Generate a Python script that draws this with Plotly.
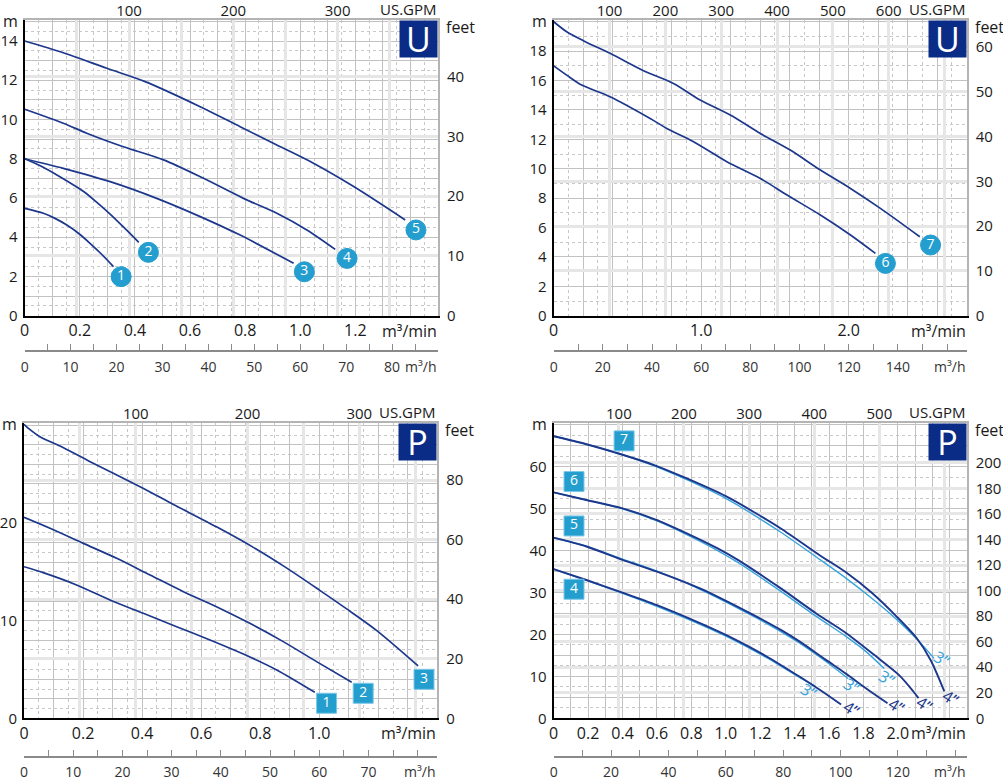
import numpy as np
import plotly.graph_objects as go

W, H = 1003, 780
GPM_PER_M3MIN = 264.172
FT_PER_M = 3.28084

NAVY = "#1c378c"
CYAN = "#249ece"
LIGHT = "#37a3dc"
BOX = "#0a2c86"
TXT = "#1a1a1a"
GRID = "#c2c2c2"
DOT = "#c8c8c8"
PALE = "#e6e6e6"
FONT = "Open Sans"

# ---------------- top left: U, curves 1-5 ----------------
a_x1 = [0, 0.068, 0.11, 0.153, 0.195, 0.237, 0.28, 0.322]
a_y1 = [5.47, 5.22, 4.96, 4.62, 4.2, 3.69, 3.12, 2.5]
a_x2 = [0, 0.06, 0.12, 0.215, 0.265, 0.31, 0.36, 0.414]
a_y2 = [8.0, 7.62, 7.15, 6.32, 5.74, 5.18, 4.5, 3.74]
a_x3 = [0, 0.14, 0.31, 0.479, 0.637, 0.78, 0.976]
a_y3 = [8.0, 7.51, 6.83, 5.98, 5.05, 4.12, 2.67]
a_x4 = [0, 0.14, 0.225, 0.358, 0.504, 0.649, 0.794, 0.915, 1.024, 1.127]
a_y4 = [10.52, 9.81, 9.3, 8.61, 7.94, 7.0, 5.98, 5.22, 4.37, 3.38]
a_x5 = [0, 0.14, 0.298, 0.437, 0.637, 0.782, 0.915, 1.048, 1.194, 1.381]
a_y5 = [14.0, 13.4, 12.61, 11.93, 10.65, 9.63, 8.70, 7.77, 6.58, 4.88]
a_tag_x = [0.350, 0.449, 1.015, 1.170, 1.420]
a_tag_y = [1.99, 3.23, 2.24, 2.92, 4.37]
a_tag_text = ["1", "2", "3", "4", "5"]

# ---------------- top right: U, curves 6-7 ----------------
b_x6 = [0, 0.088, 0.19, 0.382, 0.654, 0.767, 0.948, 1.174, 1.401, 1.582, 1.808, 2.012, 2.181]
b_y6 = [17.0, 16.37, 15.69, 14.90, 13.42, 12.74, 11.84, 10.48, 9.34, 8.21, 6.85, 5.49, 4.24]
b_x7 = [0, 0.088, 0.201, 0.382, 0.609, 0.812, 0.993, 1.197, 1.401, 1.604, 1.808, 2.012, 2.215, 2.482]
b_y7 = [20.0, 19.32, 18.71, 17.85, 16.67, 15.80, 14.67, 13.65, 12.40, 11.27, 9.91, 8.66, 7.30, 5.37]
b_tag_x = [2.249, 2.555]
b_tag_y = [3.56, 4.81]
b_tag_text = ["6", "7"]

# ---------------- bottom left: P, curves 1-3 ----------------
c_x1 = [0, 0.065, 0.178, 0.291, 0.404, 0.517, 0.630, 0.743, 0.856, 0.985]
c_y1 = [15.52, 14.91, 13.65, 12.11, 10.75, 9.38, 8.02, 6.58, 4.95, 2.66]
c_x2 = [0, 0.088, 0.201, 0.314, 0.427, 0.540, 0.652, 0.765, 0.878, 0.991, 1.110]
c_y2 = [20.57, 19.45, 17.91, 16.38, 14.67, 12.96, 11.43, 9.72, 7.85, 5.80, 3.68]
c_x3 = [0, 0.015, 0.054, 0.122, 0.224, 0.393, 0.506, 0.652, 0.777, 0.889, 1.002, 1.093, 1.194, 1.335]
c_y3 = [30.1, 29.68, 28.83, 27.87, 26.27, 23.71, 21.9, 19.6, 17.5, 15.4, 13.1, 11.2, 9.0, 5.36]
c_tag_x = [1.025, 1.149, 1.355]
c_tag_y = [1.54, 2.56, 3.99]
c_tag_text = ["1", "2", "3"]

# ---------------- bottom right: P, curves 4-7, 4" and 3" ----------------
d_x4 = [0, 0.19, 0.40, 0.60, 0.85, 1.05, 1.24, 1.43, 1.55, 1.67]
d_y4 = [35.6, 33.0, 30.0, 27.0, 22.7, 18.9, 14.7, 9.9, 6.7, 3.3]
d_x4s = [0, 0.19, 0.40, 0.60, 0.85, 1.05, 1.24, 1.43, 1.52]
d_y4s = [35.6, 32.9, 29.8, 26.7, 22.4, 18.6, 14.4, 9.7, 7.6]
d_x5 = [0, 0.19, 0.40, 0.60, 0.85, 1.14, 1.32, 1.43, 1.58, 1.70, 1.82, 1.94]
d_y5 = [43.1, 41.0, 37.8, 35.0, 31.0, 25.1, 21.1, 18.3, 14.0, 10.6, 7.0, 3.6]
d_x5s = [0, 0.19, 0.40, 0.60, 0.85, 1.14, 1.32, 1.43, 1.58, 1.71]
d_y5s = [43.1, 41.1, 38.0, 35.1, 30.8, 24.8, 20.7, 17.9, 13.6, 9.5]
d_x6 = [0, 0.19, 0.40, 0.60, 0.77, 0.95, 1.07, 1.32, 1.53, 1.70, 1.86, 2.01, 2.09, 2.12]
d_y6 = [53.9, 52.1, 50.1, 47.3, 44.2, 40.6, 37.8, 31.0, 24.9, 20.3, 15.2, 10.2, 6.4, 4.8]
d_x6s = [0, 0.19, 0.40, 0.60, 0.77, 0.95, 1.07, 1.32, 1.53, 1.70, 1.81, 1.92]
d_y6s = [53.9, 52.1, 50.0, 47.1, 43.9, 40.1, 37.2, 30.3, 24.2, 19.5, 16.1, 11.9]
d_x7 = [0, 0.19, 0.40, 0.58, 0.77, 1.0, 1.16, 1.32, 1.55, 1.70, 1.85, 1.99, 2.11, 2.19, 2.27]
d_y7 = [67.3, 65.4, 62.9, 60.5, 57.3, 53.0, 49.3, 45.3, 38.8, 34.8, 29.9, 24.4, 19.1, 13.9, 6.4]
d_x7s = [0, 0.19, 0.40, 0.58, 0.77, 1.0, 1.16, 1.32, 1.55, 1.70, 1.85, 1.99, 2.11, 2.21]
d_y7s = [67.3, 65.4, 62.9, 60.3, 57.0, 52.5, 48.6, 44.4, 37.8, 33.4, 28.6, 23.7, 18.9, 14.3]
d_tag_x = [0.118, 0.118, 0.118, 0.409]
d_tag_y = [30.8, 45.9, 56.5, 66.2]
d_tag_text = ["4", "5", "6", "7"]
d_size_x = [1.481, 1.733, 1.733, 1.994, 1.932, 2.153, 2.256, 2.308]
d_size_y = [6.4, 2.2, 7.6, 2.9, 9.5, 3.4, 14.1, 4.8]
d_size_text = ["3”", "4”", "3”", "4”", "3”", "4”", "3”", "4”"]

# tick labels
a_min_ticks = [0, 0.2, 0.4, 0.6, 0.8, 1.0, 1.2]
a_min_text = ["0", "0.2", "0.4", "0.6", "0.8", "1.0", "1.2"]
a_h_ticks = [0, 10, 20, 30, 40, 50, 60, 70, 80]
a_gpm_ticks = [100, 200, 300]
a_m_ticks = [0, 2, 4, 6, 8, 10, 12, 14]
a_ft_ticks = [0, 10, 20, 30, 40]

b_min_ticks = [0, 1.0, 2.0]
b_min_text = ["0", "1.0", "2.0"]
b_h_ticks = [0, 20, 40, 60, 80, 100, 120, 140]
b_gpm_ticks = [100, 200, 300, 400, 500, 600]
b_m_ticks = [0, 2, 4, 6, 8, 10, 12, 14, 16, 18]
b_ft_ticks = [0, 10, 20, 30, 40, 50, 60]

c_min_ticks = [0, 0.2, 0.4, 0.6, 0.8, 1.0]
c_min_text = ["0", "0.2", "0.4", "0.6", "0.8", "1.0"]
c_h_ticks = [0, 10, 20, 30, 40, 50, 60, 70]
c_gpm_ticks = [100, 200, 300]
c_m_ticks = [0, 10, 20]
c_ft_ticks = [0, 20, 40, 60, 80]

d_min_ticks = [0, 0.2, 0.4, 0.6, 0.8, 1.0, 1.2, 1.4, 1.6, 1.8, 2.0]
d_min_text = ["0", "0.2", "0.4", "0.6", "0.8", "1.0", "1.2", "1.4", "1.6", "1.8", "2.0"]
d_h_ticks = [0, 20, 40, 60, 80, 100, 120]
d_gpm_ticks = [100, 200, 300, 400, 500]
d_m_ticks = [0, 10, 20, 30, 40, 50, 60]
d_ft_ticks = [0, 20, 40, 60, 80, 100, 120, 140, 160, 180, 200]


def ax_id(p, n):
    return p if n == 1 else p + str(n)


def ax_key(p, n):
    return p + "axis" if n == 1 else p + "axis" + str(n)


def steps(top, step):
    return [round(v, 4) for v in np.arange(0, top + 1e-9, step)]


def labelled(vals, ticks, text=None):
    out = []
    for v in vals:
        s = ""
        for k, t in enumerate(ticks):
            if abs(v - t) < 1e-6:
                s = text[k] if text else str(t)
        out.append(s)
    return out


fig = go.Figure()
notes = []


def panel(i, box, hline, xr, yr, xgrid, xdot, ygrid, ydot, hstep, gstep,
          min_ticks, min_text, h_ticks, gpm_ticks, m_ticks, ft_ticks, letter):
    xm, xg, xh = 3 * i + 1, 3 * i + 2, 3 * i + 3
    ym, yf = 2 * i + 1, 2 * i + 2
    left, right, top, bottom = box
    xdom = [left / W, right / W]
    ydom = [1 - bottom / H, 1 - top / H]
    X, XG, XH = ax_id("x", xm), ax_id("x", xg), ax_id("x", xh)
    Y, YF = ax_id("y", ym), ax_id("y", yf)

    gx = steps(xr[1], xgrid)
    gy = steps(yr[1], ygrid)
    lay = {}
    lay[ax_key("x", xm)] = dict(
        domain=xdom, range=xr, anchor=Y, tickmode="array", tickvals=gx,
        ticktext=labelled(gx, min_ticks, min_text), ticks="", showgrid=True,
        gridcolor=GRID, gridwidth=1, zeroline=False, showline=True,
        linecolor="black", linewidth=2, ticklabelstandoff=-1, automargin=False,
        tickfont=dict(size=16, color=TXT),
        minor=dict(tickmode="linear", tick0=0, dtick=xdot, showgrid=True,
                   gridcolor=DOT, griddash="dot", gridwidth=1) if xdot else None)
    lay[ax_key("y", ym)] = dict(
        domain=ydom, range=yr, anchor=X, tickmode="array", tickvals=gy,
        ticktext=labelled(gy, m_ticks), ticks="", showgrid=True,
        gridcolor=GRID, gridwidth=1, zeroline=False, showline=True,
        linecolor="black", linewidth=2, ticklabelstandoff=2, automargin=False,
        tickfont=dict(size=15, color=TXT),
        minor=dict(tickmode="linear", tick0=0, dtick=ydot, showgrid=True,
                   gridcolor=DOT, griddash="dot", gridwidth=1))
    gg = steps(xr[1] * GPM_PER_M3MIN, gstep)
    lay[ax_key("x", xg)] = dict(
        overlaying=X, side="top", anchor=Y, range=[0, xr[1] * GPM_PER_M3MIN],
        tickmode="array", tickvals=gg, ticktext=labelled(gg, gpm_ticks),
        ticks="", showgrid=True, gridcolor=PALE, gridwidth=2.5, zeroline=False,
        showline=True, linecolor="#b4b4b4", linewidth=2, ticklabelstandoff=-4,
        automargin=False, tickfont=dict(size=15, color=TXT))
    lay[ax_key("y", yf)] = dict(
        overlaying=Y, side="right", anchor=X, range=[0, yr[1] * FT_PER_M],
        tickmode="array", tickvals=ft_ticks, ticks="", showgrid=True,
        gridcolor=PALE, gridwidth=2.5, zeroline=False, showline=True,
        linecolor="#b4b4b4", linewidth=2, ticklabelstandoff=4, automargin=False,
        tickfont=dict(size=15, color=TXT))
    hh = steps(xr[1] * 60, hstep)
    lay[ax_key("x", xh)] = dict(
        overlaying=X, anchor="free", position=1 - hline / H, side="bottom",
        range=[0, xr[1] * 60], tickmode="array", tickvals=hh,
        ticktext=labelled(hh, h_ticks), ticks="inside", ticklen=6,
        tickcolor="#8a8a8a", tickwidth=1, showgrid=False, zeroline=False,
        showline=True, linecolor="#8a8a8a", linewidth=1.5, automargin=False,
        ticklabelstandoff=3, tickfont=dict(size=14, color="#333333"))
    fig.update_layout(**lay)

    # keep the extra scales alive
    for xa, ya in [(XG, Y), (XH, Y), (X, YF)]:
        fig.add_trace(go.Scatter(x=[0], y=[0], xaxis=xa, yaxis=ya, mode="markers",
                                 marker=dict(opacity=0), hoverinfo="skip"))

    notes.extend([
        dict(text=letter, xref=X + " domain", yref=Y + " domain", x=1, y=1,
             xanchor="right", yanchor="top", showarrow=False, bgcolor=BOX,
             width=37, height=36, borderpad=0,
             font=dict(size=34, color="white", family=FONT)),
        dict(text="m", xref="paper", yref="paper", x=(left - 5) / W,
             y=1 - (top + 1) / H, xanchor="right", yanchor="middle",
             showarrow=False, font=dict(size=16, color=TXT)),
        dict(text="feet", xref="paper", yref="paper", x=(right + 6) / W,
             y=1 - (top + 7) / H, xanchor="left", yanchor="middle",
             showarrow=False, font=dict(size=16, color=TXT)),
        dict(text="US.GPM", xref="paper", yref="paper", x=(right + 1) / W,
             y=1 - (top - 11) / H, xanchor="right", yanchor="middle",
             showarrow=False, font=dict(size=15, color=TXT)),
        dict(text="m³/min", xref="paper", yref="paper", x=(right + 1) / W,
             y=1 - (bottom + 15) / H, xanchor="right", yanchor="middle",
             showarrow=False, font=dict(size=16, color=TXT)),
        dict(text="m³/h", xref="paper", yref="paper", x=(right + 1) / W,
             y=1 - (hline + 15) / H, xanchor="right", yanchor="middle",
             showarrow=False, font=dict(size=14, color="#333333")),
    ])
    return X, Y


def curve(X, Y, xs, ys, color=NAVY, width=1.7):
    fig.add_trace(go.Scatter(x=xs, y=ys, xaxis=X, yaxis=Y, mode="lines",
                             line=dict(color=color, width=width, shape="spline",
                                       smoothing=0.8),
                             hoverinfo="skip"))


def tags(X, Y, xs, ys, text, symbol):
    fig.add_trace(go.Scatter(x=xs, y=ys, xaxis=X, yaxis=Y, mode="markers+text",
                             text=text, textposition="middle center",
                             textfont=dict(size=14, color="white", family=FONT),
                             marker=dict(symbol=symbol, size=20, color=CYAN,
                                         line=dict(color="#7cc7e8" if symbol == "square" else CYAN,
                                                   width=1)),
                             cliponaxis=False, hoverinfo="skip"))


# top left
X, Y = panel(0, (24.7, 438, 20, 315.7), 351, [0, 1.5], [0, 15.07], 0.1, 0.05, 1, 0.5, 5, 50,
             a_min_ticks, a_min_text, a_h_ticks, a_gpm_ticks, a_m_ticks, a_ft_ticks, "U")
for xs, ys in [(a_x1, a_y1), (a_x2, a_y2), (a_x3, a_y3), (a_x4, a_y4), (a_x5, a_y5)]:
    curve(X, Y, xs, ys)
tags(X, Y, a_tag_x, a_tag_y, a_tag_text, "circle")

# top right
X, Y = panel(1, (553.7, 966.7, 20, 315.7), 351, [0, 2.8], [0, 20.12], 0.2, 0.1, 2, 1, 10, 100,
             b_min_ticks, b_min_text, b_h_ticks, b_gpm_ticks, b_m_ticks, b_ft_ticks, "U")
for xs, ys in [(b_x6, b_y6), (b_x7, b_y7)]:
    curve(X, Y, xs, ys)
tags(X, Y, b_tag_x, b_tag_y, b_tag_text, "circle")

# bottom left
X, Y = panel(2, (24, 437.3, 423.3, 718.3), 756.7, [0, 1.4], [0, 30.2], 0.1, 0.05, 2, 1, 5, 50,
             c_min_ticks, c_min_text, c_h_ticks, c_gpm_ticks, c_m_ticks, c_ft_ticks, "P")
for xs, ys in [(c_x1, c_y1), (c_x2, c_y2), (c_x3, c_y3)]:
    curve(X, Y, xs, ys)
tags(X, Y, c_tag_x, c_tag_y, c_tag_text, "square")

# bottom right
X, Y = panel(3, (553.7, 966.7, 423.3, 718.3), 756.7, [0, 2.4], [0, 70.4], 0.1, None, 5, 2.5, 10, 100,
             d_min_ticks, d_min_text, d_h_ticks, d_gpm_ticks, d_m_ticks, d_ft_ticks, "P")
for xs, ys in [(d_x4s, d_y4s), (d_x5s, d_y5s), (d_x6s, d_y6s), (d_x7s, d_y7s)]:
    curve(X, Y, xs, ys, color=LIGHT, width=1.4)
for xs, ys in [(d_x4, d_y4), (d_x5, d_y5), (d_x6, d_y6), (d_x7, d_y7)]:
    curve(X, Y, xs, ys, width=1.9)
tags(X, Y, d_tag_x, d_tag_y, d_tag_text, "square")
for k in range(len(d_size_text)):
    notes.append(dict(text=d_size_text[k], x=d_size_x[k], y=d_size_y[k], xref=X, yref=Y,
                      showarrow=False, textangle=32,
                      font=dict(size=16, color=LIGHT if d_size_text[k].startswith("3") else NAVY)))

fig.update_layout(width=W, height=H, margin=dict(l=0, r=0, t=0, b=0),
                  paper_bgcolor="white", plot_bgcolor="white", showlegend=False,
                  font=dict(family=FONT, color=TXT), annotations=notes)
# the page's default body margin would push the figure off the window
fig.write_html("out.html", config={"displayModeBar": False},
               post_script="document.body.style.margin='0';")
